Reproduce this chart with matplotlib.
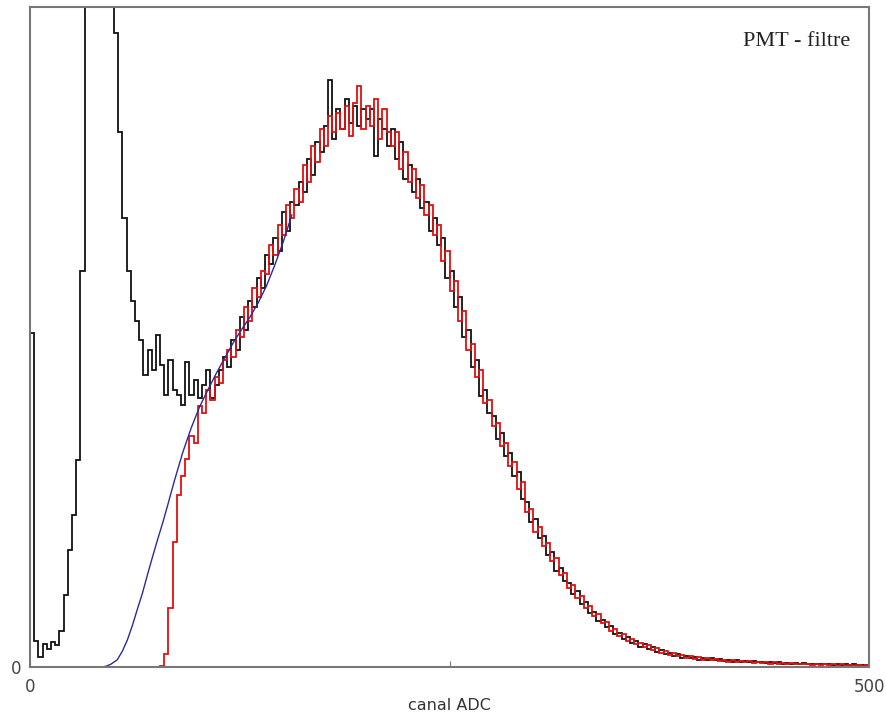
import numpy as np
import matplotlib
matplotlib.use("Agg")
from matplotlib import pyplot as plt

# ADC histograms, 2.5 channel bins from 0 to 500
bin_width = 2.5

# PMT spectrum without filter (black), bins 0..199
black_counts = [
    506, 40, 15, 35, 28, 38, 34, 55, 109, 177,
    230, 314, 600, 1500, 1500, 1500, 1500, 1500, 1500, 1500,
    960, 810, 680, 600, 555, 525, 495, 442, 480, 450,
    503, 458, 412, 465, 420, 412, 397, 462, 412, 435,
    408, 427, 450, 408, 427, 450, 470, 455, 495, 480,
    530, 510, 555, 545, 590, 575, 625, 610, 650, 630,
    690, 660, 705, 700, 735, 720, 770, 745, 795, 780,
    820, 890, 800, 845, 815, 860, 825, 850, 820, 845,
    830, 845, 775, 830, 815, 790, 815, 770, 795, 740,
    760, 720, 740, 695, 705, 660, 680, 640, 650, 590,
    600, 545, 560, 500, 510, 455, 465, 410, 420, 385,
    380, 345, 355, 320, 325, 290, 295, 255, 250, 220,
    225, 195, 198, 170, 175, 145, 150, 130, 128, 110,
    115, 95, 98, 82, 84, 70, 72, 60, 62, 50,
    52, 43, 46, 36, 40, 31, 35, 27, 30, 23,
    26, 19, 22, 16, 19, 14, 17, 13, 15, 11,
    14, 11, 13, 10, 12, 9, 11, 8, 10, 8,
    9, 7, 9, 7, 8, 6, 7, 6, 7, 5,
    6, 5, 6, 4, 6, 4, 5, 4, 5, 4,
    5, 3, 4, 3, 4, 3, 4, 3, 3, 3,
]

# PMT spectrum with filter (red), starts at bin 30 (channel 75)
red_start = 30
red_counts = [
    0, 2, 20, 90, 190, 260, 290, 315, 350, 340,
    395, 385, 420, 405, 440, 430, 465, 480, 470, 510,
    500, 545, 525, 575, 560, 600, 595, 640, 625, 670,
    655, 700, 680, 725, 705, 760, 735, 790, 765, 815,
    790, 835, 810, 840, 815, 850, 805, 855, 880, 815,
    850, 820, 860, 800, 845, 810, 790, 810, 755, 780,
    735, 755, 710, 730, 685, 700, 655, 670, 615, 630,
    570, 585, 525, 540, 480, 490, 440, 450, 400, 405,
    365, 370, 335, 340, 305, 310, 270, 280, 235, 240,
    205, 212, 183, 188, 160, 165, 140, 142, 120, 125,
    105, 108, 90, 92, 77, 80, 66, 68, 55, 58,
    47, 50, 40, 43, 35, 37, 30, 33, 26, 29,
    22, 25, 18, 21, 16, 18, 14, 16, 12, 15,
    11, 13, 10, 12, 9, 11, 8, 10, 8, 9,
    7, 9, 6, 8, 6, 7, 5, 7, 5, 6,
    4, 6, 4, 5, 4, 5, 3, 5, 3, 4,
    3, 4, 2, 4, 2, 3, 2, 3, 2, 3,
]

# fitted curve (blue)
fit_channel = [43, 45, 48, 52, 55, 58, 61, 64, 67, 70, 73, 76, 79, 82, 86, 91,
               96, 101, 106, 111, 116, 121, 126, 131, 136, 141, 146, 151, 156]
fit_counts = [0, 1, 4, 11, 24, 41, 63, 88, 112, 140, 167, 193, 218, 245, 282, 325,
              362, 394, 420, 445, 468, 491, 511, 530, 552, 578, 610, 645, 685]

black_edges = np.arange(len(black_counts) + 1) * bin_width
red_edges = (np.arange(len(red_counts) + 1) + red_start) * bin_width

fig = plt.figure(figsize=(8.86, 7.16), dpi=100)
ax = fig.add_axes([0.0339, 0.0684, 0.9470, 0.9218])

ax.stairs(black_counts, black_edges, color='#111111', lw=1.3, baseline=None)
ax.stairs(red_counts, red_edges, color='#e01010', lw=1.3, baseline=None)
ax.plot(fit_channel, fit_counts, color='#2b2b9e', lw=1.0)

ax.set_xlim(0, 500)
ax.set_ylim(0, 1000)

ax.set_xticks([0, 250, 500])
ax.set_xticklabels(['0', '', '500'])
ax.set_yticks([0])
ax.set_yticklabels(['0'])
ax.tick_params(axis='x', direction='in', length=4, color='#777777',
               labelsize=12, labelcolor='#444444', pad=8)
ax.tick_params(axis='y', length=0, labelsize=12, labelcolor='#444444', pad=6)
for s in ax.spines.values():
    s.set_color('#777777')
    s.set_linewidth(1.5)

ax.set_xlabel('canal ADC', fontsize=11.5, color='#333333', labelpad=1)
ax.text(0.977, 0.947, 'PMT - filtre', transform=ax.transAxes, ha='right', va='center',
        fontsize=16, family='Liberation Serif', color='#222222')

fig.savefig('out.png', dpi=100)
